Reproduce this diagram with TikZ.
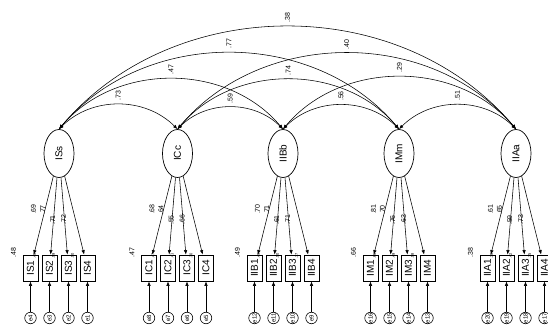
\documentclass[tikz,border=0pt]{standalone}
\usepackage{fontspec}
\setmainfont{Liberation Sans}
\usetikzlibrary{arrows.meta,shapes.geometric}

\tikzset{
  latent/.style={draw, ellipse, line width=0.7pt, minimum width=30pt, minimum height=48pt, inner sep=0pt, font=\fontsize{10}{12}\selectfont},
  obsbox/.style={draw, rectangle, line width=0.7pt, minimum width=15pt, minimum height=26pt, inner sep=0pt, font=\fontsize{10}{12}\selectfont},
  errc/.style={draw, circle, line width=0.6pt, minimum size=11.5pt, inner sep=0pt},
  errlab/.style={inner sep=0pt, font=\fontsize{6}{7}\selectfont},
  pathto/.style={-{Latex[length=4.5pt,width=3.5pt]}, line width=0.55pt},
  covar/.style={{Latex[length=4.5pt,width=3.5pt]}-{Latex[length=4.5pt,width=3.5pt]}, line width=0.55pt},
  numlab/.style={inner sep=0pt, font=\fontsize{7}{8}\selectfont},
  loadlab/.style={numlab, left=9pt},
  covlab/.style={numlab, above=4pt},
  tinylab/.style={inner sep=0pt, font=\fontsize{4}{5}\selectfont},
}

\newcommand{\vtext}[1]{\rotatebox{90}{#1}}
% box name, x, box text, factor, loading, label pos, error, small r2
\newcommand{\indicator}[8]{%
  \node[obsbox] (#1) at (#2,58) {\vtext{#3}};
  \node[tinylab] (#1-r2) at ([xshift=4pt,yshift=-1.5pt]#1.north) {\vtext{#8}};
  \node[errc, label={[errlab]center:\vtext{#7}}] (#7) at (#2,8) {};
  \draw[pathto] (#7) -- (#1);
  \draw[pathto] (#4) -- node[loadlab, pos=#6] {\vtext{#5}} (#1);
}

\begin{document}
\begin{tikzpicture}[x=1pt, y=1pt]
		%%%%% START %%%%%
		\useasboundingbox (0,0) rectangle (548,326);
		
		\node[latent] (ISs) at (59,172.5) {\vtext{ISs}};
		\node[latent] (ICc) at (177.5,172.5) {\vtext{ICc}};
		\node[latent] (IIBb) at (283,172.5) {\vtext{IIBb}};
		\node[latent] (IMm) at (399,172.5) {\vtext{IMm}};
		\node[latent] (IIAa) at (516,172.5) {\vtext{IIAa}};
		
		\indicator{IS1}{30.5}{IS1}{ISs}{.69}{0.42}{e4}{.48}
		\indicator{IS2}{49.5}{IS2}{ISs}{.77}{0.42}{e3}{.59}
		\indicator{IS3}{68.5}{IS3}{ISs}{.71}{0.55}{e2}{.50}
		\indicator{IS4}{87.5}{IS4}{ISs}{.72}{0.55}{e1}{}
		\node[numlab] (r2IS) at ([xshift=-17pt,yshift=2pt]IS1.north) {\vtext{.48}};
		
		\indicator{IC1}{149}{IC1}{ICc}{.68}{0.42}{e8}{.47}
		\indicator{IC2}{168}{IC2}{ICc}{.64}{0.42}{e7}{.41}
		\indicator{IC3}{187}{IC3}{ICc}{.55}{0.55}{e6}{.30}
		\indicator{IC4}{206}{IC4}{ICc}{.66}{0.55}{e5}{}
		\node[numlab] (r2IC) at ([xshift=-17pt,yshift=2pt]IC1.north) {\vtext{.47}};
		
		\indicator{IIB1}{254.5}{IIB1}{IIBb}{.70}{0.42}{e12}{.49}
		\indicator{IIB2}{273.5}{IIB2}{IIBb}{.71}{0.42}{e11}{.50}
		\indicator{IIB3}{292.5}{IIB3}{IIBb}{.61}{0.55}{e10}{.37}
		\indicator{IIB4}{311.5}{IIB4}{IIBb}{.71}{0.55}{e9}{}
		\node[numlab] (r2IIB) at ([xshift=-17pt,yshift=2pt]IIB1.north) {\vtext{.49}};
		
		\indicator{IM1}{370.5}{IM1}{IMm}{.81}{0.42}{e16}{.66}
		\indicator{IM2}{389.5}{IM2}{IMm}{.70}{0.42}{e15}{.49}
		\indicator{IM3}{408.5}{IM3}{IMm}{.76}{0.55}{e14}{.58}
		\indicator{IM4}{427.5}{IM4}{IMm}{.63}{0.55}{e13}{}
		\node[numlab] (r2IM) at ([xshift=-17pt,yshift=2pt]IM1.north) {\vtext{.66}};
		
		\indicator{IIA1}{487.5}{IIA1}{IIAa}{.61}{0.42}{e20}{.38}
		\indicator{IIA2}{506.5}{IIA2}{IIAa}{.65}{0.42}{e19}{.42}
		\indicator{IIA3}{525.5}{IIA3}{IIAa}{.59}{0.55}{e18}{.35}
		\indicator{IIA4}{544.5}{IIA4}{IIAa}{.73}{0.55}{e17}{}
		\node[numlab] (r2IIA) at ([xshift=-17pt,yshift=2pt]IIA1.north) {\vtext{.38}};
		
		% correlations between the factors
		\draw[covar] (ISs.north) to[bend left=45] node[covlab] {\vtext{.73}} (ICc.north);
		\draw[covar] (ICc.north) to[bend left=45] node[covlab] {\vtext{.59}} (IIBb.north);
		\draw[covar] (IIBb.north) to[bend left=45] node[covlab] {\vtext{.56}} (IMm.north);
		\draw[covar] (IMm.north) to[bend left=45] node[covlab] {\vtext{.51}} (IIAa.north);
		
		\draw[covar] (ISs.north) to[bend left=50] node[covlab] {\vtext{.47}} (IIBb.north);
		\draw[covar] (ICc.north) to[bend left=50] node[covlab] {\vtext{.74}} (IMm.north);
		\draw[covar] (IIBb.north) to[bend left=50] node[covlab] {\vtext{.29}} (IIAa.north);
		
		\draw[covar] (ISs.north) to[bend left=50] node[covlab] {\vtext{.77}} (IMm.north);
		\draw[covar] (ICc.north) to[bend left=50] node[covlab] {\vtext{.40}} (IIAa.north);
		
		\draw[covar] (ISs.north) to[bend left=50] node[covlab] {\vtext{.38}} (IIAa.north);
		
		%%%%% END %%%%%
	\end{tikzpicture}
\end{document}
